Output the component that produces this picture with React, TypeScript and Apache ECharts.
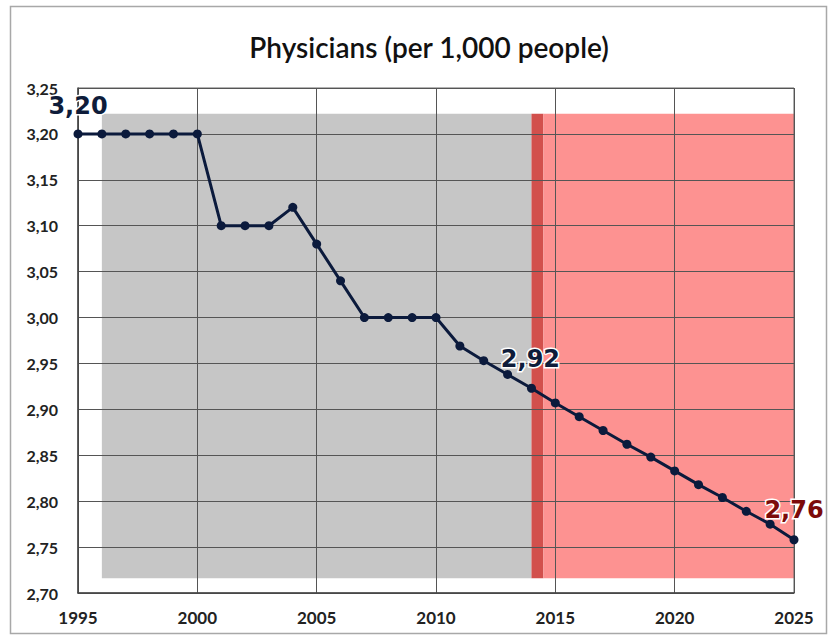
import React, { useEffect, useRef } from "react";
import * as echarts from "echarts";

const years = [1995,1996,1997,1998,1999,2000,2001,2002,2003,2004,2005,2006,2007,2008,2009,2010,2011,2012,2013,2014,2015,2016,2017,2018,2019,2020,2021,2022,2023,2024,2025];
const physicians = [3.20,3.20,3.20,3.20,3.20,3.20,3.10,3.10,3.10,3.12,3.08,3.04,3.00,3.00,3.00,3.00,2.969,2.953,2.938,2.923,2.907,2.892,2.877,2.862,2.848,2.833,2.818,2.804,2.789,2.775,2.758];
// shaded periods: [xStart, xEnd, yBottom, yTop]
const shadeRanges = [
  [1996, 2014.0, 2.716, 3.222],
  [2014.0, 2014.5, 2.716, 3.222],
  [2014.5, 2025, 2.716, 3.222],
];
const shadeColors = ["#c6c6c6", "#d2504c", "#fd9291"];
const labelled: Record<number, { text: string; color: string; dx: number; dy: number }> = {
  1995: { text: "3,20", color: "#0e1c3a", dx: 0, dy: -6 },
  2014: { text: "2,92", color: "#0e1c3a", dx: -1, dy: -8 },
  2025: { text: "2,76", color: "#7c0a0a", dx: 0, dy: -8 },
};

const FONT = "Lato, 'Open Sans', sans-serif";
const LABEL_FONT = "'DejaVu Sans', sans-serif";

export default function App() {
  const ref = useRef<HTMLDivElement>(null);
  useEffect(() => {
    document.body.style.margin = "0";
    const chart = echarts.init(ref.current!, null, { renderer: "svg" });
    const lineData = years.map((y, i) => {
      const l = labelled[y];
      if (!l) return [y, physicians[i]];
      return {
        value: [y, physicians[i]],
        label: {
          show: true,
          position: "top",
          offset: [l.dx, l.dy],
          formatter: l.text,
          color: l.color,
          fontFamily: LABEL_FONT,
          fontWeight: "bold",
          fontSize: 24,
          textBorderColor: "#ffffff",
          textBorderWidth: 3,
        },
      };
    });
    chart.setOption({
      animation: false,
      backgroundColor: "#ffffff",
      title: {
        text: "Physicians (per 1,000 people)",
        left: 424,
        top: 28,
        textAlign: "center",
        textStyle: { fontFamily: FONT, fontSize: 28, fontWeight: 600, color: "#111" },
      },
      graphic: [
        {
          type: "rect",
          shape: { x: 10.5, y: 6.5, width: 816, height: 627 },
          style: { fill: "none", stroke: "#a8a8a8", lineWidth: 1.5 },
          silent: true,
        },
      ],
      grid: {
        left: 78,
        right: 34,
        top: 88,
        bottom: 49,
        show: true,
        borderColor: "#666",
        borderWidth: 1,
      },
      xAxis: {
        type: "value",
        min: 1995,
        max: 2025,
        interval: 5,
        axisLine: { show: true, lineStyle: { color: "#444", width: 1.5 } },
        axisTick: { show: false },
        splitLine: { show: true, lineStyle: { color: "#555", width: 1 } },
        axisLabel: {
          margin: 16,
          fontFamily: FONT,
          fontWeight: "bold",
          fontSize: 17,
          color: "#222",
          formatter: (v: number) => String(v),
        },
      },
      yAxis: {
        type: "value",
        min: 2.7,
        max: 3.25,
        interval: 0.05,
        axisLine: { show: true, lineStyle: { color: "#444", width: 1.5 } },
        axisTick: { show: false },
        splitLine: { show: true, lineStyle: { color: "#555", width: 1 } },
        axisLabel: {
          margin: 20,
          fontFamily: FONT,
          fontWeight: "bold",
          fontSize: 16,
          color: "#222",
          formatter: (v: number) => v.toFixed(2).replace(".", ","),
        },
      },
      series: [
        {
          type: "custom",
          z: -1,
          silent: true,
          data: shadeRanges.map((r, i) => [...r, i]),
          renderItem: (params: any, api: any) => {
            const p0 = api.coord([api.value(0), api.value(3)]);
            const p1 = api.coord([api.value(1), api.value(2)]);
            return {
              type: "rect",
              shape: { x: p0[0], y: p0[1], width: p1[0] - p0[0], height: p1[1] - p0[1] },
              style: { fill: shadeColors[api.value(4)] },
            };
          },
        },
        {
          type: "line",
          z: 5,
          data: lineData,
          symbol: "circle",
          symbolSize: 9,
          lineStyle: { color: "#0b1a3c", width: 3 },
          itemStyle: { color: "#0b1a3c" },
        },
      ],
    });
    return () => chart.dispose();
  }, []);
  return <div ref={ref} style={{ position: "absolute", left: 0, top: 0, width: 828, height: 642 }} />;
}
